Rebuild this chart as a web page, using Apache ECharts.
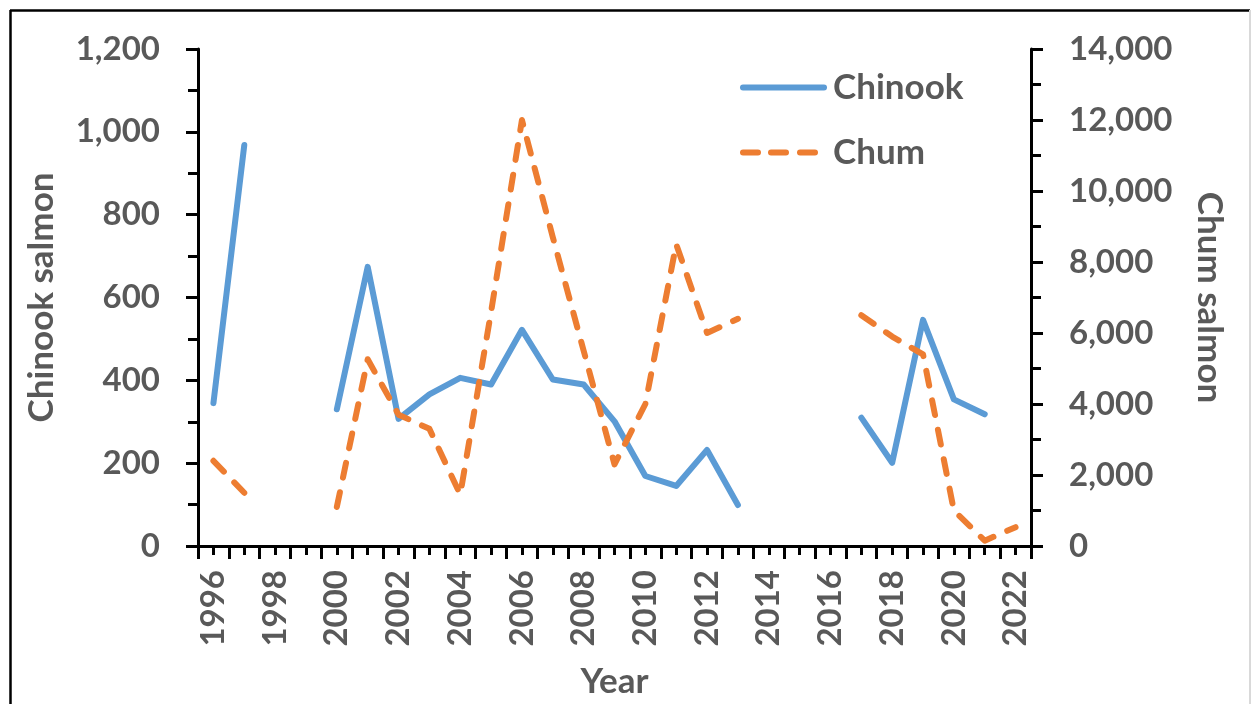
<!DOCTYPE html>
<html>
<head>
<meta charset="utf-8">
<script src="https://cdn.jsdelivr.net/npm/echarts@6/dist/echarts.min.js"></script>
<style>
html,body{margin:0;padding:0;background:#fff;}
#chart{width:1251px;height:704px;}
</style>
</head>
<body>
<div id="chart"></div>
<script>
const years = ['1996','1997','1998','1999','2000','2001','2002','2003','2004','2005','2006','2007','2008','2009','2010','2011','2012','2013','2014','2015','2016','2017','2018','2019','2020','2021','2022'];
const chinook = [345, 968, null, null, 330, 674, 307, 366, 406, 390, 522, 402, 390, 301, 169, 145, 232, 99, null, null, null, 310, 201, 546, 354, 318, null];
const chum = [2400, 1500, null, null, 1100, 5260, 3700, 3300, 1450, 6600, 12000, 8700, 5500, 2300, 4000, 8500, 6000, 6400, null, null, null, 6500, 5900, 5400, 1000, 150, 530];
const leftAxisRange = [0, 1200, 200];
const rightAxisRange = [0, 14000, 2000];

const FONT = 'Lato';
const GRAY = '#595959';
const fmt = v => String(v).replace(/\B(?=(\d{3})+(?!\d))/g, ',');
const tickText = {fontFamily: FONT, fontWeight: 'bold', fontSize: 33, color: GRAY};
const titleText = {fontFamily: FONT, fontWeight: 'bold', fontSize: 35, color: GRAY};

const solidIcon = 'path://M3,0H84A3,3 0 0 1 84,6H3A3,3 0 0 1 3,0Z';
const dashIcon = 'path://M3,0H18A3,3 0 0 1 18,6H3A3,3 0 0 1 3,0Z M31,0H46A3,3 0 0 1 46,6H31A3,3 0 0 1 31,0Z M60,0H75A3,3 0 0 1 75,6H60A3,3 0 0 1 60,0Z M87,3';

const chart = echarts.init(document.getElementById('chart'), null, {renderer: 'canvas'});
chart.setOption({
  animation: false,
  backgroundColor: '#fff',
  grid: {left: 198, right: 220, top: 49, bottom: 157, containLabel: false},
  legend: {
    orient: 'vertical', left: 740, top: 70, padding: 0,
    itemWidth: 87, itemHeight: 6, itemGap: 30,
    textStyle: Object.assign({}, titleText, {padding: [0,0,0,1]}),
    data: [{name: 'Chinook', icon: solidIcon}, {name: 'Chum', icon: dashIcon}]
  },
  xAxis: [{
    type: 'category', data: years, boundaryGap: true,
    axisLine: {lineStyle: {color: '#000', width: 3}},
    axisTick: {show: true, interval: 0, length: 13, lineStyle: {color: '#000', width: 3}},
    axisLabel: Object.assign({interval: 1, rotate: 90, margin: 24}, tickText),
    name: 'Year', nameLocation: 'middle', nameGap: 118,
    nameTextStyle: titleText,
    splitLine: {show: false}
  }, {
    type: 'category', data: years, boundaryGap: true, position: 'bottom',
    axisLine: {show: false},
    axisTick: {show: true, interval: 0, alignWithLabel: true, length: 9, lineStyle: {color: '#000', width: 3}},
    axisLabel: {show: false},
    splitLine: {show: false}
  }],
  yAxis: [{
    type: 'value', min: leftAxisRange[0], max: leftAxisRange[1], interval: leftAxisRange[2],
    axisLine: {show: true, lineStyle: {color: '#000', width: 3}},
    axisTick: {show: true, length: 12, lineStyle: {color: '#000', width: 3}},
    minorTick: {show: true, splitNumber: 2, length: 10, lineStyle: {color: '#000', width: 3}},
    splitLine: {show: false},
    axisLabel: Object.assign({margin: 38, formatter: fmt}, tickText),
    name: 'Chinook salmon', nameLocation: 'middle', nameGap: 139,
    nameTextStyle: titleText
  }, {
    type: 'value', min: rightAxisRange[0], max: rightAxisRange[1], interval: rightAxisRange[2],
    position: 'right',
    axisLine: {show: true, lineStyle: {color: '#000', width: 3}},
    axisTick: {show: true, length: 12, lineStyle: {color: '#000', width: 3}},
    minorTick: {show: true, splitNumber: 2, length: 10, lineStyle: {color: '#000', width: 3}},
    splitLine: {show: false},
    axisLabel: Object.assign({margin: 38, formatter: fmt}, tickText),
    name: 'Chum salmon', nameLocation: 'middle', nameGap: 161, nameRotate: -90,
    nameTextStyle: titleText
  }],
  series: [{
    name: 'Chinook', type: 'line', data: chinook, yAxisIndex: 0,
    symbol: 'none', connectNulls: false,
    lineStyle: {color: '#5B9BD5', width: 6, cap: 'round', join: 'round'},
    itemStyle: {color: '#5B9BD5'}
  }, {
    name: 'Chum', type: 'line', data: chum, yAxisIndex: 1,
    symbol: 'none', connectNulls: false,
    lineStyle: {color: '#ED7D31', width: 6, type: [15, 15], cap: 'round', join: 'round'},
    itemStyle: {color: '#ED7D31'}
  }],
  graphic: [
    {type: 'line', shape: {x1: 10, y1: 10.5, x2: 1250, y2: 10.5}, style: {stroke: '#000', lineWidth: 2.5}},
    {type: 'line', shape: {x1: 10.5, y1: 10, x2: 10.5, y2: 704}, style: {stroke: '#000', lineWidth: 2.5}},
    {type: 'line', shape: {x1: 1250, y1: 10, x2: 1250, y2: 704}, style: {stroke: '#d9d9d9', lineWidth: 2}}
  ]
});
</script>
</body>
</html>
